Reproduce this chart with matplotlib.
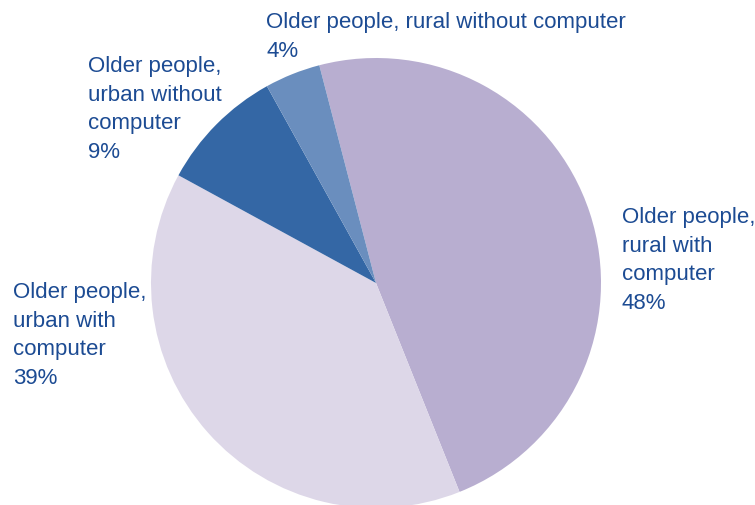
import matplotlib.pyplot as plt

labels = ['Older people,\nrural with\ncomputer',
          'Older people,\nurban with\ncomputer',
          'Older people,\nurban without\ncomputer',
          'Older people, rural without computer']
shares = [48, 39, 9, 4]
colors = ['#b8aed0', '#ddd7e8', '#3467a5', '#6a8ebe']

# label anchor (left, top) in pixels from the top-left corner
label_pos = [(622, 207), (13, 282), (88, 56), (266, 12)]

W, H = 755, 506
fig = plt.figure(figsize=(W / 100, H / 100), dpi=100)
ax = fig.add_axes([0, 0, 1, 1])

ax.pie(shares, colors=colors, startangle=104.6, counterclock=False,
       center=(376, H - 284), radius=225, frame=True,
       wedgeprops=dict(linewidth=0))
ax.set_xlim(0, W)
ax.set_ylim(0, H)
ax.set_aspect('equal')
ax.axis('off')

for lab, val, (x, y) in zip(labels, shares, label_pos):
    ax.text(x, H - y, f'{lab}\n{val}%', ha='left', va='top',
            fontsize=16, color='#1c4b93', family='Liberation Sans',
            linespacing=1.47)

fig.savefig('out.png', dpi=100)
